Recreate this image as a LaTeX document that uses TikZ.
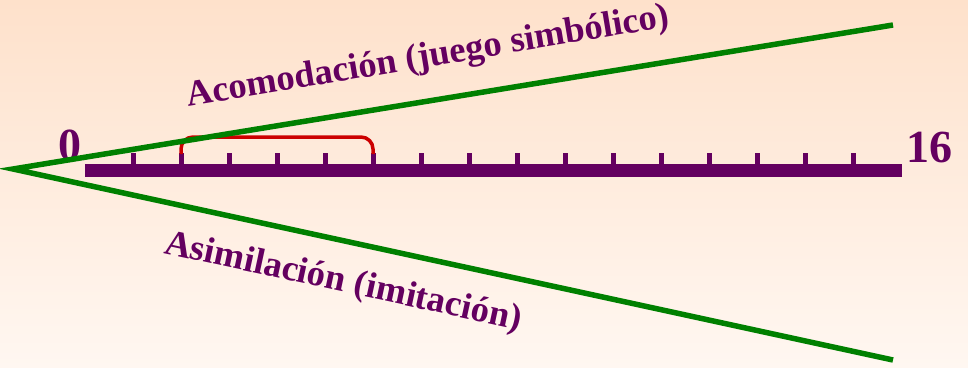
\documentclass[tikz,border=0pt]{standalone}
\usepackage{fontspec}
\setmainfont{Liberation Serif}
\usepackage{tikz}
\usetikzlibrary{calc,shadings}
\definecolor{bgtop}{RGB}{254,225,203}
\definecolor{bgbot}{RGB}{255,247,241}
\definecolor{piagetpurple}{RGB}{100,0,96}
\definecolor{piagetgreen}{RGB}{0,128,0}
\definecolor{piagetred}{RGB}{204,0,0}
\tikzset{
    arm/.style={draw=piagetgreen, line width=5.5pt, line cap=butt},
    ruler/.style={draw=piagetpurple, line width=13pt},
    tickmark/.style={draw=piagetpurple, line width=5pt},
    scalenum/.style={text=piagetpurple, font=\fontsize{46}{50}\selectfont\bfseries, inner sep=0pt},
    armlabel/.style={text=piagetpurple, font=\fontsize{36.5}{40}\selectfont\bfseries, inner sep=0pt}
}

\begin{document}
\begin{tikzpicture}[x=1pt, y=-1pt]
    % background
    \shade[top color=bgtop, bottom color=bgbot] (0,0) rectangle (968,367);
    \useasboundingbox (0,0) rectangle (968,367);
    \coordinate (V) at (13,169);
    \coordinate (U) at (893,25);
    \coordinate (L) at (893,360);
    \coordinate (R0) at (85,170);
    \coordinate (R1) at (902,170);
    \coordinate (Ba) at (181,154);
    \coordinate (Bb) at (373,154);
    \node[scalenum, anchor=base] (zero) at (70,160) {0};
    \node[scalenum, anchor=base] (sixteen) at (929,162) {16};
    \draw[ruler] (R0) -- (R1);
    \foreach \k in {0,...,15}
        \draw[tickmark] (133+48*\k,153) -- (133+48*\k,164);
    \draw[piagetred, line width=3.5pt, rounded corners=12pt]
        (Ba) -- ($(Ba)+(0,-17)$) -- ($(Bb)+(0,-17)$) -- (Bb);
    \draw[arm] (U) -- (V) -- (L);
    \node[armlabel, rotate=9.46, anchor=base west] (acom) at (188,107) {Acomodación (juego simbólico)};
    \node[armlabel, rotate=-12.2, anchor=base west] (asim) at (163,253) {Asimilación (imitación)};
\end{tikzpicture}
\end{document}
